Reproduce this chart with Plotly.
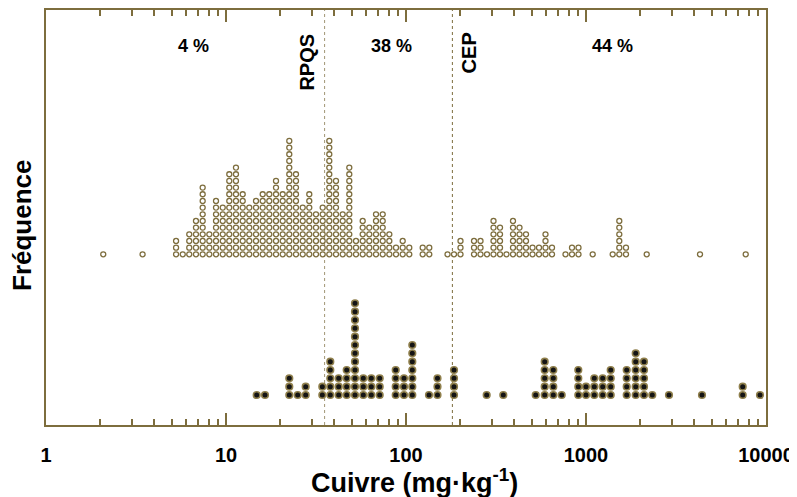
import math
import plotly.graph_objects as go

# ---- data (mg/kg bin centres and number of samples per bin) ----
upper_values = [2.08, 3.44, 5.28, 5.75, 6.25, 6.81, 7.42, 8.08, 8.80, 9.59,
                10.43, 11.36, 12.38, 13.47, 14.68, 15.99, 17.40, 18.96, 20.65, 22.47,
                24.48, 26.68, 29.02, 31.62, 34.45, 37.49, 40.84, 44.49, 48.42, 52.75,
                57.46, 62.54, 68.13, 74.23, 80.80, 88.01, 95.87, 104.3, 123.8, 134.7,
                170.1, 184.8, 200.8, 238.7, 259.4, 281.8, 306.3, 332.9, 361.6, 393.0,
                427.1, 464.2, 504.5, 548.2, 595.7, 647.4, 769.3, 835.9, 908.4, 1089.5,
                1407, 1531, 1668, 2174, 4299, 7714]
upper_counts = [1, 1, 3, 1, 4, 6, 11, 4, 9, 8,
                13, 14, 10, 8, 9, 10, 10, 12, 10, 18,
                13, 8, 10, 7, 8, 18, 12, 7, 14, 3,
                6, 5, 7, 7, 4, 2, 3, 2, 2, 2,
                1, 1, 3, 3, 3, 1, 6, 5, 1, 6,
                5, 4, 2, 2, 4, 2, 1, 2, 2, 1,
                1, 6, 2, 1, 1, 1]

lower_values = [14.81, 16.47, 22.47, 25.02, 27.72, 34.28, 37.97, 42.27, 46.84, 52.08,
                57.91, 64.16, 71.43, 87.68, 97.48, 108.4, 134.2, 149.6, 184.8, 280.7,
                347.2, 525.6, 589.6, 658.2, 732.8, 906.2, 1000, 1112, 1238, 1372,
                1683, 1889, 2100, 2335, 2891, 4410, 7423, 9262]
lower_counts = [1, 1, 3, 1, 2, 2, 5, 3, 4, 12,
                3, 3, 3, 4, 3, 7, 1, 3, 4, 1,
                1, 1, 5, 4, 1, 4, 2, 3, 3, 4,
                4, 6, 5, 1, 1, 1, 2, 1]

rpqs = 35.3
cep = 181.0
x_tick_values = [1, 10, 100, 1000, 10000]
x_tick_labels = ["1", "10", "100", "1000", "10000"]
zone_labels = ["4 %", "38 %", "44 %"]
zone_positions = [6.56, 83.3, 1395]

# ---- styling constants ----
OLIVE = "#7d6d3d"
FONT = "Liberation Sans"
UPPER_BASE, UPPER_STEP = 170.7, 6.67
LOWER_BASE, LOWER_STEP = 30.0, 8.33
PLOT_H = 415.0


def stack(values, counts, base, step):
    xs, ys = [], []
    for v, c in zip(values, counts):
        for k in range(c):
            xs.append(v)
            ys.append(base + k * step)
    return xs, ys


def py(px):
    """paper y from page pixel row (plot top at 10 px, bottom at 425 px)"""
    return (425.0 - px) / PLOT_H


ux, uy = stack(upper_values, upper_counts, UPPER_BASE, UPPER_STEP)
lx, ly = stack(lower_values, lower_counts, LOWER_BASE, LOWER_STEP)

fig = go.Figure()
fig.add_trace(go.Scatter(
    x=ux, y=uy, mode="markers", showlegend=False, hoverinfo="x",
    marker=dict(symbol="circle", size=5, color="white",
                line=dict(color=OLIVE, width=1.3))))
fig.add_trace(go.Scatter(
    x=lx, y=ly, mode="markers", showlegend=False, hoverinfo="x",
    marker=dict(symbol="circle", size=6.6, color="#141414",
                line=dict(color="#8f7f4c", width=1.6))))

# threshold lines
for v, col in [(rpqs, "#a09674"), (cep, "#7d6d3d")]:
    fig.add_shape(type="line", x0=v, x1=v, xref="x", y0=0, y1=1, yref="paper",
                  line=dict(color=col, width=1, dash="dot"), layer="below")

# zone percentages
for lab, pos in zip(zone_labels, zone_positions):
    fig.add_annotation(x=math.log10(pos), xref="x", y=py(46), yref="paper",
                       xanchor="center", yanchor="middle",
                       text="<b>" + lab + "</b>", showarrow=False,
                       font=dict(family=FONT, size=18, color="black"))

fig.add_annotation(x=math.log10(rpqs), xref="x", y=py(62), yref="paper", text="<b>RPQS</b>",
                   textangle=-90, showarrow=False, xanchor="center", yanchor="middle",
                   xshift=-18, font=dict(family=FONT, size=20, color="black"))
fig.add_annotation(x=math.log10(cep), xref="x", y=py(53), yref="paper", text="<b>CEP</b>",
                   textangle=-90, showarrow=False, xanchor="center", yanchor="middle",
                   xshift=17, font=dict(family=FONT, size=20, color="black"))

# axis titles
fig.add_annotation(x=0.5, xref="paper", xshift=8, y=py(481), yref="paper",
                   text="<b>Cuivre (mg·kg<sup>-1</sup>)</b>", showarrow=False,
                   xanchor="center", yanchor="middle",
                   font=dict(family=FONT, size=27, color="black"))
fig.add_annotation(x=(22 - 46) / 720.0, xref="paper", y=py(225), yref="paper",
                   text="<b>Fréquence</b>", textangle=-90, showarrow=False,
                   xanchor="center", yanchor="middle",
                   font=dict(family=FONT, size=26, color="black"))

minor_vals = [m * 10 ** d for d in range(4) for m in range(2, 10)]

fig.update_xaxes(
    type="log", range=[0, 4], automargin=False,
    tickmode="array", tickvals=x_tick_values,
    ticktext=["<b>" + t + "</b>" for t in x_tick_labels],
    tickfont=dict(family=FONT, size=20, color="black"),
    ticks="inside", ticklen=12, tickwidth=1.5, tickcolor=OLIVE,
    minor=dict(tickmode="array", tickvals=minor_vals, ticks="inside",
               ticklen=6, tickwidth=1.5, tickcolor=OLIVE, showgrid=False),
    ticklabelstandoff=11,
    showline=True, linecolor=OLIVE, linewidth=1.5, mirror="ticks",
    showgrid=False, zeroline=False,
)
fig.update_yaxes(
    range=[0, PLOT_H], showticklabels=False, ticks="", automargin=False,
    showline=True, linecolor=OLIVE, linewidth=1.5, mirror=True,
    showgrid=False, zeroline=False,
)

# the page adds an 8 px body margin, so the figure is 8 px smaller and offset
fig.update_layout(
    width=789, height=489,
    margin=dict(l=38, r=31, t=2, b=72),
    plot_bgcolor="white", paper_bgcolor="white",
    font=dict(family=FONT),
)

fig.write_html("out.html")
